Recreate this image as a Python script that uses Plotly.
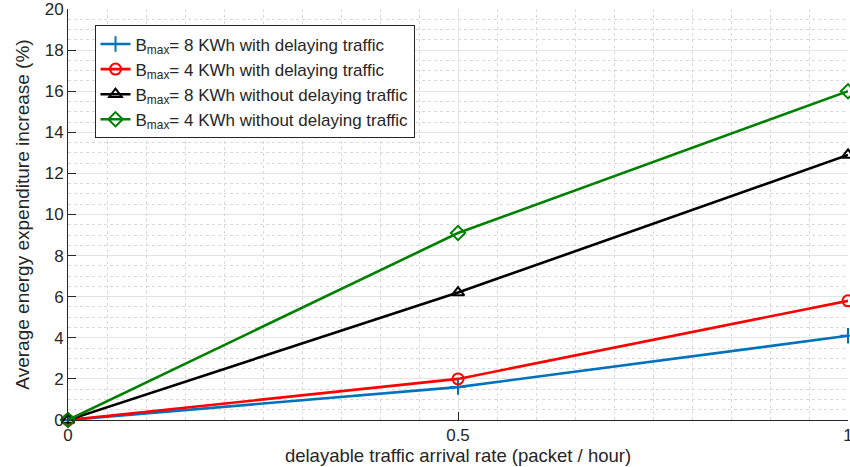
import plotly.graph_objects as go

x_rate = [0, 0.5, 1]
b8_with = [0, 1.6, 4.1]
b4_with = [0, 2.0, 5.8]
b8_without = [0, 6.2, 12.9]
b4_without = [0, 9.1, 16.0]

names = [
    "B<sub>max</sub>= 8 KWh with delaying traffic",
    "B<sub>max</sub>= 4 KWh with delaying traffic",
    "B<sub>max</sub>= 8 KWh without delaying traffic",
    "B<sub>max</sub>= 4 KWh without delaying traffic",
]
series = [b8_with, b4_with, b8_without, b4_without]
colors = ["#0072BD", "#FF0000", "#000000", "#008000"]
symbols = ["cross-thin-open", "circle-open", "triangle-up-open", "diamond-open"]

fig = go.Figure()
for n, s, c, sym in zip(names, series, colors, symbols):
    fig.add_trace(go.Scatter(
        x=x_rate, y=s, name=n, mode="lines+markers", cliponaxis=False,
        line=dict(color=c, width=2.6),
        marker=dict(symbol=sym, size=11, color=c, line=dict(color=c, width=2)),
    ))

axis_common = dict(
    showline=True, linecolor="#262626", linewidth=1,
    ticks="inside", ticklen=8, tickcolor="#262626",
    tickfont=dict(size=17, color="#262626"),
    showgrid=True, gridcolor="#E3E3E3", gridwidth=1,
    zeroline=False, mirror=False, automargin=False,
    ticklabeloverflow="allow",
)

fig.update_xaxes(
    range=[0, 1], tickvals=[0, 0.5, 1], ticktext=["0", "0.5", "1"],
    title=dict(text="delayable traffic arrival rate (packet / hour)", font=dict(size=18.5, color="#262626"), standoff=0),
    minor=dict(dtick=0.05, showgrid=True, gridcolor="#D9D9D9", griddash="dot", gridwidth=1, ticks=""),
    **axis_common,
)
fig.update_yaxes(
    range=[0, 20], tickvals=list(range(0, 21, 2)),
    title=dict(text="Average energy expenditure increase (%)", font=dict(size=19, color="#262626"), standoff=10),
    minor=dict(dtick=0.5, showgrid=True, gridcolor="#D9D9D9", griddash="dot", gridwidth=1, ticks=""),
    **axis_common,
)

fig.update_layout(
    width=850, height=467,
    margin=dict(l=68, r=2, t=9, b=47, autoexpand=False),
    plot_bgcolor="white", paper_bgcolor="white",
    font=dict(family="Liberation Sans, Arial, sans-serif", color="#262626"),
    legend=dict(
        x=0.034, y=0.96, xanchor="left", yanchor="top",
        bgcolor="white", bordercolor="#262626", borderwidth=1,
        font=dict(size=17, color="#262626"), itemwidth=30,
        tracegroupgap=0,
    ),
    showlegend=True,
)

fig.write_html(
    "out.html",
    config={"displayModeBar": False},
    post_script="document.body.style.margin='0';document.body.style.overflow='hidden';",
)
